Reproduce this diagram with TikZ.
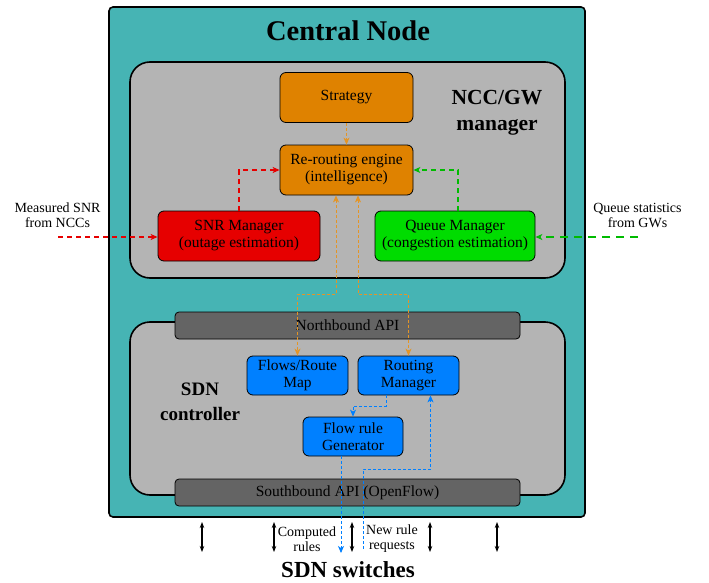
\documentclass[tikz,border=0pt]{standalone}
\usepackage{fontspec}
\setmainfont{Liberation Serif}
\usetikzlibrary{positioning}
\usetikzlibrary{arrows.meta}

\definecolor{cnteal}{RGB}{70,180,180}
\definecolor{cngray}{RGB}{180,180,180}
\definecolor{cndark}{RGB}{100,100,100}
\definecolor{cnorange}{RGB}{223,130,0}
\definecolor{cnred}{RGB}{230,0,0}
\definecolor{cngreen}{RGB}{0,220,0}
\definecolor{cnblue}{RGB}{0,128,255}

\tikzset{
  tip/.tip={Stealth[length=7pt, width=6pt, inset=2pt]},
  mgrbox/.style={draw, rounded corners=6pt, line width=0.8pt, align=center,
    minimum width=133pt, minimum height=50pt, font=\fontsize{15.5}{17}\selectfont},
  sdnbox/.style={mgrbox, fill=cnblue, minimum width=101pt, minimum height=39pt},
  apibox/.style={draw, fill=cndark, rounded corners=4pt, line width=0.8pt,
    minimum width=345pt, minimum height=27pt, font=\fontsize{15.5}{17}\selectfont},
  areabox/.style={draw, fill=cngray, rounded corners=20pt, line width=1.6pt,
    minimum width=435pt},
  bigtitle/.style={font=\fontsize{28.5}{30}\selectfont\bfseries},
  areatitle/.style={align=center, font=\fontsize{21.5}{26}\selectfont\bfseries},
  sidetext/.style={align=center, inner sep=0pt, font=\fontsize{14}{15}\selectfont},
  flowline/.style={dash pattern=on 3pt off 2pt, line width=0.8pt, -tip},
  inline/.style={dash pattern=on 5pt off 4pt, line width=1.1pt, -tip},
}

\begin{document}
\begin{tikzpicture}[x=1pt, y=-1pt]
  \useasboundingbox (0,0) rectangle (709,583);

  % containers
  \node[draw, fill=cnteal, rounded corners=4pt, line width=1.6pt,
    minimum width=476pt, minimum height=510pt] (central) at (347,262) {};
  \node[bigtitle] (cntitle) at (348,31) {Central Node};

  \node[areabox, minimum height=216pt] (ncc) at (347.5,170) {};
  \node[areatitle] (ncctitle) at (497,113) {NCC/GW\\manager};

  \node[areabox, minimum height=173pt] (sdn) at (347.5,408.5) {};
  \node[areatitle, font=\fontsize{19}{25}\selectfont\bfseries] (sdntitle) at (200,402) {SDN\\controller};

  % NCC/GW manager
  \node[mgrbox, fill=cnorange] (strategy) at (346.5,97.5) {Strategy};
  \node[mgrbox, fill=cnorange] (rr) at (346.5,170) {Re-routing engine\\(intelligence)};
  \node[mgrbox, fill=cnred, minimum width=162pt] (snr) at (239,236) {SNR Manager\\(outage estimation)};
  \node[mgrbox, fill=cngreen, minimum width=160pt] (queue) at (455,236) {Queue Manager\\(congestion estimation)};

  % SDN controller
  \node[apibox] (nb) at (347.5,325.5) {Northbound API};
  \node[apibox] (sb) at (347.5,492.5) {Southbound API (OpenFlow)};
  \node[sdnbox] (flows) at (297.5,375.5) {Flows/Route\\Map};
  \node[sdnbox] (rm) at (408.5,375.5) {Routing\\Manager};
  \node[sdnbox, minimum width=100pt] (frg) at (353,436.5) {Flow rule\\Generator};

  % outside texts
  \node[sidetext] (snrtext) at (57.5,215) {Measured SNR\\from NCCs};
  \node[sidetext] (qtext) at (637.5,215) {Queue statistics\\from GWs};
  \node[sidetext] (comp) at (307,539) {Computed\\rules};
  \node[sidetext] (newrule) at (392,539) {New rule\\requests};
  \node[bigtitle, font=\fontsize{23}{25}\selectfont\bfseries] (switches) at (348,570) {SDN switches};

  % inputs
  \coordinate (snrin) at (58,237);
  \coordinate (qin) at (638,237);
  \draw[inline, cnred] (snrin) -- (snr.west |- snrin);
  \draw[inline, cngreen!85!black, dash pattern=on 8pt off 6pt] (qin) -- (queue.east |- qin);
  \draw[inline, cnred] (snr.north) |- (rr.west);
  \draw[inline, cngreen!85!black] (queue.north -| 458,0) |- (rr.east);
  \draw[flowline, cnorange!85!white] (strategy) -- (rr);

  % northbound
  \coordinate (nb1) at (336,294);
  \coordinate (nb2) at (358,294);
  \draw[flowline, cnorange!85!white, tip-tip] (rr.south -| nb1) -- (nb1) -| (flows.north);
  \draw[flowline, cnorange!85!white, tip-tip] (rr.south -| nb2) -- (nb2) -| (rm.north);

  % rules
  \coordinate (rm1) at (386,406);
  \draw[flowline, cnblue] (rm.south -| rm1) -- (rm1) -| (frg.north);
  \coordinate (down) at (341,553);
  \draw[flowline, cnblue] (frg.south -| down) -- (down);
  \coordinate (up1) at (363,549);
  \coordinate (up2) at (363,469);
  \draw[flowline, cnblue] (up1) -- (up2) -| ([xshift=22pt]rm.south);

  % switches
  \foreach \x in {202,274,352,430,497} {
    \coordinate (st\x) at (\x,522);
    \coordinate (sb\x) at (\x,552);
    \draw[line width=1.2pt, {Stealth[length=6pt]}-{Stealth[length=6pt]}] (st\x) -- (sb\x);
  }
\end{tikzpicture}
\end{document}
